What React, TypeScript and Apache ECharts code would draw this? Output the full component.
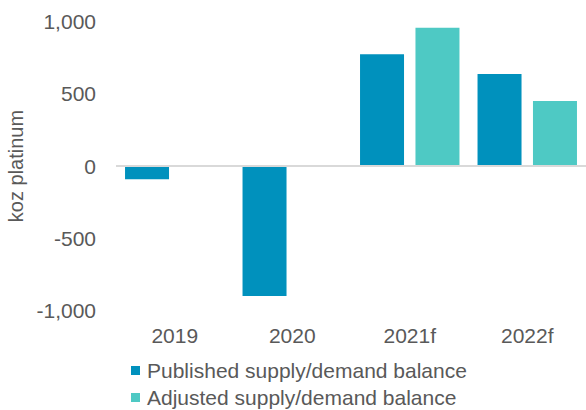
import React, { useEffect, useRef } from "react";
import * as echarts from "echarts";

const categories = ["2019", "2020", "2021f", "2022f"];
const published = [-92, -900, 773, 637];
const adjusted: (number | null)[] = [null, null, 957, 450];
const seriesNames = ["Published supply/demand balance", "Adjusted supply/demand balance"];
const yTicks = { min: -1000, max: 1000, interval: 500 };

export default function App() {
  const ref = useRef<HTMLDivElement>(null);
  useEffect(() => {
    if (!ref.current) return;
    const chart = echarts.init(ref.current, undefined, { renderer: "svg" });
    const font = "'Liberation Sans', Arial, sans-serif";
    const textColor = "#595959";
    const legendBase = {
      orient: "horizontal",
      left: 131,
      padding: 0,
      itemWidth: 9,
      itemHeight: 9,
      icon: "rect",
      textStyle: { fontSize: 21, color: textColor, fontFamily: font, padding: [0, 0, 0, 2] },
    };
    chart.setOption({
      animation: false,
      textStyle: { fontFamily: font },
      grid: { left: 116, right: 0, top: 21.5, bottom: 99.5, outerBoundsMode: "none", containLabel: false },
      legend: [
        { ...legendBase, top: 360, data: [seriesNames[0]] },
        { ...legendBase, top: 387, data: [seriesNames[1]] },
      ],
      xAxis: {
        type: "category",
        data: categories,
        axisLine: { show: false },
        axisTick: { show: false },
        axisLabel: { fontSize: 21, color: textColor, margin: 14, fontFamily: font },
      },
      yAxis: {
        type: "value",
        min: yTicks.min,
        max: yTicks.max,
        interval: yTicks.interval,
        name: "koz platinum",
        nameLocation: "middle",
        nameGap: 88,
        nameTextStyle: { fontSize: 20, color: textColor, fontFamily: font },
        splitLine: { show: false },
        axisLine: { show: false },
        axisTick: { show: false },
        axisLabel: {
          fontSize: 21,
          color: textColor,
          margin: 20,
          fontFamily: font,
          formatter: (v: number) => v.toLocaleString("en-US"),
        },
      },
      series: [
        {
          name: seriesNames[0],
          type: "bar",
          data: published,
          barWidth: 44,
          barGap: "26%",
          itemStyle: { color: "#0091BD" },
          markLine: {
            silent: true,
            symbol: "none",
            label: { show: false },
            lineStyle: { color: "#D9D9D9", width: 2, type: "solid" },
            data: [{ yAxis: 0 }],
          },
          z: 3,
        },
        {
          name: seriesNames[1],
          type: "bar",
          data: adjusted,
          barWidth: 44,
          itemStyle: { color: "#4EC9C4" },
          z: 3,
        },
      ],
    });
    return () => chart.dispose();
  }, []);
  return <div ref={ref} style={{ width: 586, height: 410, position: "absolute", left: 0, top: 0 }} />;
}
